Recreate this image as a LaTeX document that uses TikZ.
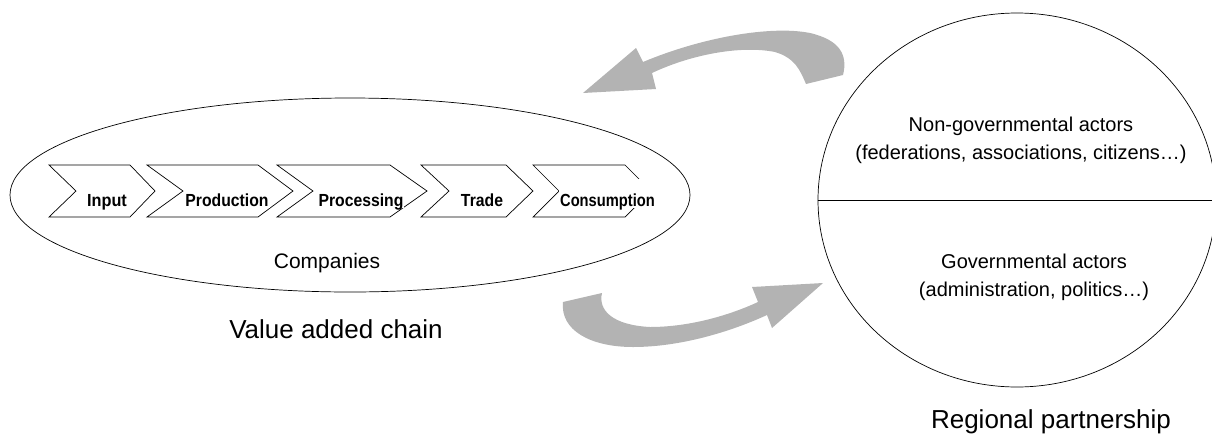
\documentclass[tikz,border=0pt]{standalone}
\usepackage{fontspec}
\usepackage{graphicx}
\setmainfont{Liberation Sans}
\usetikzlibrary{shapes.geometric}
\definecolor{arrowgray}{RGB}{179,179,179}
% stage names are set tall and slightly condensed
\newcommand{\stagename}[2][0.9]{\scalebox{#1}[1]{#2}}
\tikzset{
  outline/.style={draw=black, line width=0.7pt},
  chev/.style={outline, fill=white, line join=miter},
  stagelabel/.style={font=\fontsize{17.5}{19}\selectfont\bfseries, fill=white,
    inner xsep=1pt, inner ysep=0pt, text height=27pt, text depth=2pt, anchor=base},
  caption/.style={font=\fontsize{26}{30}\selectfont, anchor=base, inner sep=0pt},
  bodytext/.style={font=\fontsize{20}{28}\selectfont, align=center, inner sep=0pt},
  flow/.style={fill=arrowgray, draw=none},
}
\begin{document}
\begin{tikzpicture}[x=1pt,y=-1pt]
\useasboundingbox (0,0) rectangle (1212,437);

% value added chain: companies ellipse
\node[ellipse, outline, minimum width=680pt, minimum height=194pt, inner sep=0pt] (chain) at (350,195) {};

% chain stages as chevrons
\draw[chev] (49,165) -- (130,165) -- (155,191) -- (130,217) -- (49,217) -- (76,191) -- cycle;
\draw[chev] (147,165) -- (258,165) -- (293,191) -- (258,217) -- (147,217) -- (183,191) -- cycle;
\draw[chev] (277,165) -- (390,165) -- (427,191) -- (390,217) -- (277,217) -- (313,191) -- cycle;
\draw[chev] (421,165) -- (506,165) -- (533,191) -- (506,217) -- (421,217) -- (449,191) -- cycle;
\draw[chev] (533,165) -- (625,165) -- (651,191) -- (625,217) -- (533,217) -- (559,191) -- cycle;

\node[stagelabel] (input) at (107,206) {\stagename[0.93]{Input}};
\node[stagelabel] (production) at (227,206) {\stagename{Production}};
\node[stagelabel] (processing) at (361,206) {\stagename{Processing}};
\node[stagelabel] (trade) at (482,206) {\stagename{Trade}};
\node[stagelabel] (consumption) at (607.5,206) {\stagename[0.84]{Consumption}};

\node[font=\fontsize{21}{24}\selectfont, anchor=base, inner sep=0pt] (companies) at (327,268) {Companies};
\node[caption] (chainlabel) at (336,338) {Value added chain};

% regional partnership
\node[ellipse, outline, minimum width=398pt, minimum height=374pt, inner sep=0pt] (partners) at (1017,200) {};
\draw[outline] (partners.west) -- (partners.east);
\node[bodytext] (nongov) at (1021,140.5) {Non-governmental actors\\(federations, associations, citizens\dots)};
\node[bodytext] (gov) at (1034,277.5) {Governmental actors\\(administration, politics\dots)};
\node[caption] (partnerlabel) at (1051,428) {Regional partnership};

% curved block arrows between chain and partnership
\fill[flow] (583,93) -- (636,48) -- (643,62)
  .. controls (700,38) and (770,25) .. (810,33)
  .. controls (840,40) and (848,55) .. (843,75)
  -- (806,84)
  .. controls (800,70) and (795,58) .. (775,52)
  .. controls (740,45) and (690,55) .. (652,73)
  -- (656,89) -- cycle;
\fill[flow] (563,302) -- (602,293)
  .. controls (598,310) and (612,325) .. (650,327)
  .. controls (690,327) and (730,315) .. (758,302)
  -- (752,287) -- (823,283) -- (772,328) -- (767,315)
  .. controls (730,332) and (680,347) .. (633,347)
  .. controls (590,347) and (560,330) .. (563,302) -- cycle;
\end{tikzpicture}
\end{document}
